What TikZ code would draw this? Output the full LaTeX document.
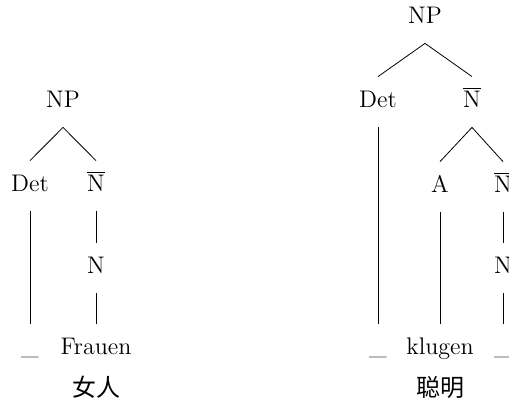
\documentclass[tikz,border=0pt]{standalone}
\usepackage{fontspec}
\newfontfamily\cjk{Noto Sans CJK SC}
\newcommand{\nbar}{$\overline{\mathrm{N}}$}
\tikzset{
	cat/.style={inner sep=0pt, minimum height=25pt, text height=1.6ex, text depth=.3ex},
	gloss/.style={inner sep=0pt, font=\fontsize{12}{14}\cjk}
}
\begin{document}
\begin{tikzpicture}[x=0.5pt, y=-0.5pt, font=\fontsize{12}{14}\selectfont]
	\clip (0,0) rectangle (509,406);
	\node[cat] (np1) at (63,102) {NP};
	\node[cat] (det1) at (30,186) {Det};
	\node[cat] (nb1) at (96,186) {\nbar};
	\node[cat] (n1) at (96,268) {N};
	\node[cat] (e1) at (30,349) {\_};
	\node[cat] (w1) at (96,349) {Frauen};
	\node[gloss] (g1) at (96,387) {女人};
	\draw (np1.south) -- (det1.north);
	\draw (np1.south) -- (nb1.north);
	\draw (det1.south) -- (e1.north);
	\draw (nb1.south) -- (n1.north);
	\draw (n1.south) -- (w1.north);

	\node[cat] (np2) at (425,18) {NP};
	\node[cat] (det2) at (378,102) {Det};
	\node[cat] (nb2) at (472,102) {\nbar};
	\node[cat] (a2) at (440,187) {A};
	\node[cat] (nb3) at (503,187) {\nbar};
	\node[cat] (n2) at (503,268) {N};
	\node[cat] (e2) at (378,349) {\_};
	\node[cat] (w2) at (440,349) {klugen};
	\node[cat] (e3) at (503,349) {\_};
	\node[gloss] (g2) at (440,387) {聪明};
	\draw (np2.south) -- (det2.north);
	\draw (np2.south) -- (nb2.north);
	\draw (det2.south) -- (e2.north);
	\draw (nb2.south) -- (a2.north);
	\draw (nb2.south) -- (nb3.north);
	\draw (a2.south) -- (w2.north);
	\draw (nb3.south) -- (n2.north);
	\draw (n2.south) -- (e3.north);
\end{tikzpicture}
\end{document}
